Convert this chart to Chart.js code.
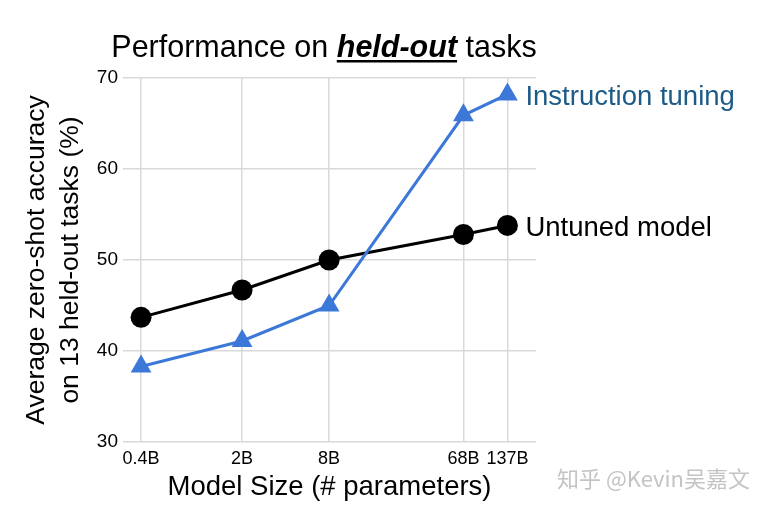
<!DOCTYPE html>
<html>
<head>
<meta charset="utf-8">
<script src="https://cdn.jsdelivr.net/npm/chart.js@4.4.0/dist/chart.umd.min.js"></script>
<style>
  html, body { margin: 0; padding: 0; background: #fff; }
  #wrap { width: 775px; height: 510px; }
</style>
</head>
<body>
<div id="wrap"><canvas id="chart" width="775" height="510"></canvas></div>
<script>
// model sizes in billions of parameters
const modelSizes = [0.4, 2, 8, 68, 137];
const sizeLabels = ['0.4B', '2B', '8B', '68B', '137B'];
const instructionTuning = [38.3, 41.1, 45.0, 65.9, 68.2];
const untunedModel = [43.7, 46.7, 50.0, 52.8, 53.8];
const yTicks = [30, 40, 50, 60, 70];

const FONT = '"Liberation Sans", Arial, sans-serif';

// title, series end labels and watermark
const extraText = {
    id: 'extraText',
    afterDraw(chart) {
        const ctx = chart.ctx;
        ctx.save();

        // title with bold italic underlined part
        const parts = [
            { t: 'Performance on ', f: '30.5px ' + FONT, u: false },
            { t: 'held-out', f: 'italic bold 30.5px ' + FONT, u: true },
            { t: ' tasks', f: '30.5px ' + FONT, u: false }
        ];
        let total = 0;
        parts.forEach(p => { ctx.font = p.f; p.w = ctx.measureText(p.t).width; total += p.w; });
        let x = 324 - total / 2;
        const base = 57;
        ctx.fillStyle = '#000';
        ctx.textBaseline = 'alphabetic';
        ctx.textAlign = 'left';
        parts.forEach(p => {
            ctx.font = p.f;
            ctx.fillText(p.t, x, base);
            if (p.u) {
                ctx.fillRect(x, base + 3, p.w, 2.5);
            }
            x += p.w;
        });

        // labels next to the last points
        const names = ['Instruction tuning', 'Untuned model'];
        const colors = ['#1c5a87', '#000'];
        ctx.font = '27.5px ' + FONT;
        ctx.textBaseline = 'middle';
        chart.data.datasets.forEach((ds, i) => {
            const pts = chart.getDatasetMeta(i).data;
            const last = pts[pts.length - 1];
            ctx.fillStyle = colors[i];
            ctx.fillText(names[i], last.x + 18, last.y + 3);
        });

        // watermark
        ctx.font = '22px "Noto Sans CJK SC", sans-serif';
        ctx.fillStyle = '#c4c4c4';
        ctx.fillText('知乎 @Kevin吴嘉文', 557, 479);
        ctx.restore();
    }
};

const ctx = document.getElementById('chart').getContext('2d');
const myChart = new Chart(ctx, {
    type: 'line',
    data: {
        datasets: [{
            label: 'Instruction tuning',
            data: modelSizes.map((s, i) => ({ x: s, y: instructionTuning[i] })),
            borderColor: '#3c78d8',
            backgroundColor: '#3c78d8',
            borderWidth: 3,
            pointStyle: 'triangle',
            pointRadius: 12,
            pointBorderWidth: 0,
            tension: 0
        }, {
            label: 'Untuned model',
            data: modelSizes.map((s, i) => ({ x: s, y: untunedModel[i] })),
            borderColor: '#000',
            backgroundColor: '#000',
            borderWidth: 3,
            pointStyle: 'circle',
            pointRadius: 10.5,
            pointBorderWidth: 0,
            tension: 0
        }]
    },
    options: {
        responsive: false,
        animation: false,
        layout: {
            padding: { top: 78, right: 239, bottom: 0, left: 0 }
        },
        plugins: {
            legend: { display: false },
            title: { display: false },
            tooltip: { enabled: false }
        },
        scales: {
            x: {
                type: 'logarithmic',
                min: 0.3,
                max: 216,
                afterBuildTicks: function(scale) {
                    scale.ticks = modelSizes.map(v => ({ value: v }));
                },
                afterFit: function(scale) {
                    scale.height = 68;
                },
                ticks: {
                    autoSkip: false,
                    maxRotation: 0,
                    padding: 6,
                    color: '#000',
                    font: { family: FONT, size: 18 },
                    callback: function(value) {
                        const i = modelSizes.indexOf(value);
                        return i >= 0 ? sizeLabels[i] : '';
                    }
                },
                grid: { color: '#d9d9d9', lineWidth: 1.5, drawTicks: false },
                border: { display: false },
                title: {
                    display: true,
                    text: 'Model Size (# parameters)',
                    color: '#000',
                    font: { family: FONT, size: 27.5 },
                    padding: { top: 0, bottom: 6 }
                }
            },
            y: {
                min: 30,
                max: 70,
                afterBuildTicks: function(scale) {
                    scale.ticks = yTicks.map(v => ({ value: v }));
                },
                afterFit: function(scale) {
                    scale.width = 123;
                },
                ticks: {
                    padding: 5,
                    color: '#000',
                    font: { family: FONT, size: 19 }
                },
                grid: { color: '#d9d9d9', lineWidth: 1.5, drawTicks: false },
                border: { display: false },
                title: {
                    display: true,
                    text: ['Average zero-shot accuracy', 'on 13 held-out tasks (%)'],
                    color: '#000',
                    font: { family: FONT, size: 26.5, lineHeight: 1.28 },
                    padding: { top: 20, bottom: 0 }
                }
            }
        }
    },
    plugins: [extraText]
});
</script>
</body>
</html>
